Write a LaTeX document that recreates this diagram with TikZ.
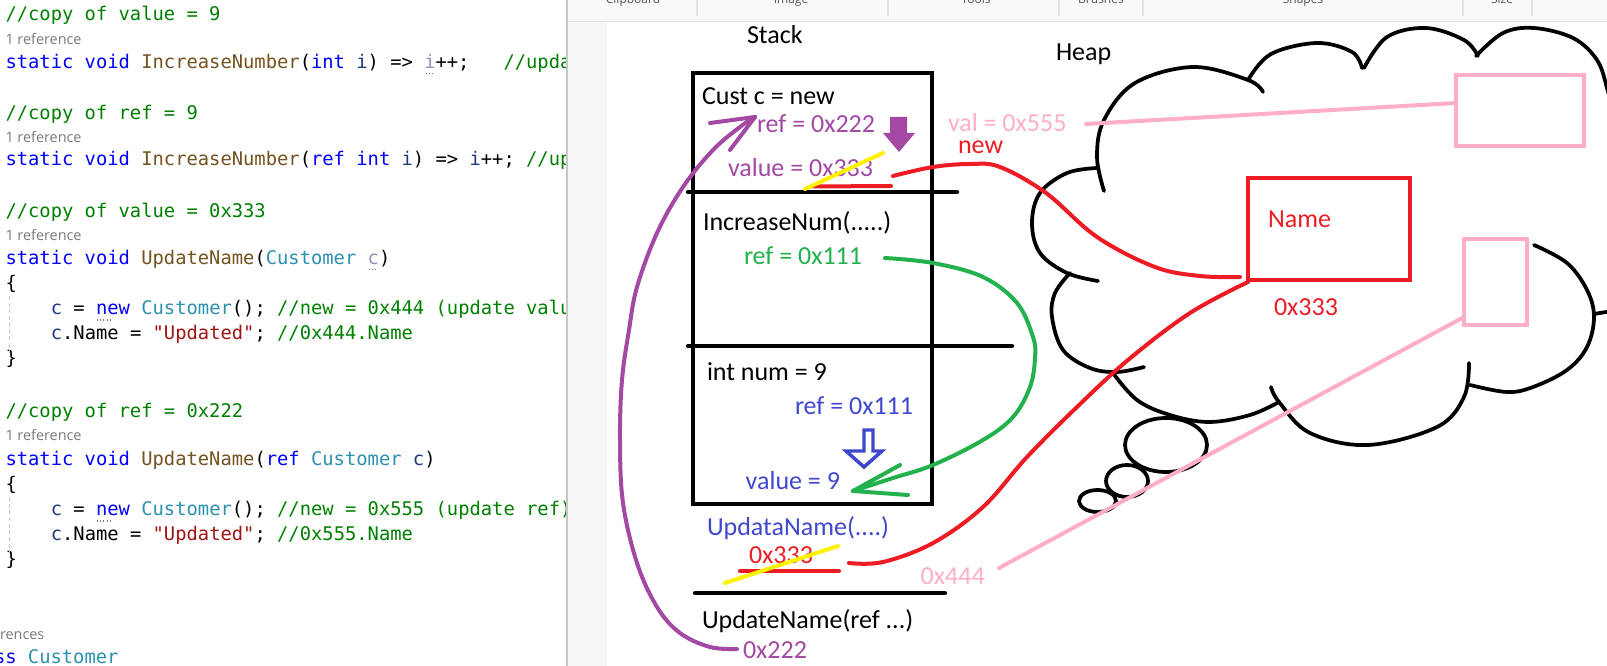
\documentclass[tikz,border=0pt]{standalone}
\usepackage{fontspec}
\setmainfont{Carlito}
\setmonofont{DejaVu Sans Mono}
\newfontfamily\uifont{Open Sans}
\definecolor{ppurple}{HTML}{A349A4}
\definecolor{pred}{HTML}{ED1C24}
\definecolor{pgreen}{HTML}{22B14C}
\definecolor{pblue}{HTML}{3F48CC}
\definecolor{ppink}{HTML}{FFAEC9}
\definecolor{pyellow}{HTML}{FFF200}
\definecolor{vskw}{HTML}{0000FF}
\definecolor{vsmt}{HTML}{74531F}
\definecolor{vsty}{HTML}{2B91AF}
\definecolor{vscm}{HTML}{008000}
\definecolor{vsst}{HTML}{A31515}
\definecolor{vspa}{HTML}{1F377F}
\definecolor{vsfd}{HTML}{8E96B8}
\definecolor{vsref}{HTML}{7A7A7A}
\definecolor{paintbg}{HTML}{F7F7F7}
\definecolor{ribbonbg}{HTML}{F9F9F9}
\definecolor{ribbonln}{HTML}{E3E3E3}
\definecolor{ribbontx}{HTML}{555555}
\newcommand{\CKw}[1]{\textcolor{vskw}{#1}}
\newcommand{\CMt}[1]{\textcolor{vsmt}{#1}}
\newcommand{\CTy}[1]{\textcolor{vsty}{#1}}
\newcommand{\CCm}[1]{\textcolor{vscm}{#1}}
\newcommand{\CSt}[1]{\textcolor{vsst}{#1}}
\newcommand{\CPa}[1]{\textcolor{vspa}{#1}}
\newcommand{\CFd}[1]{\textcolor{vsfd}{#1}}
\tikzset{
  ctxt/.style={inner sep=0pt, outer sep=0pt, anchor=base west, font=\ttfamily\fontsize{14.1}{17}\selectfont},
  reftxt/.style={inner sep=0pt, outer sep=0pt, anchor=base west, text=vsref, font=\uifont\fontsize{10.8}{13}\selectfont},
  ribtxt/.style={inner sep=0pt, outer sep=0pt, anchor=base, text=ribbontx, font=\uifont\fontsize{9}{11}\selectfont},
  ptxt/.style={inner sep=0pt, outer sep=0pt, anchor=base west, font=\fontsize{19.5}{23}\selectfont},
  pstroke/.style={line width=3pt, line cap=round, line join=round},
  boxline/.style={line width=3.2pt, line cap=round},
  cloudline/.style={black, line width=2.8pt, line cap=round, line join=round},
  vsdots/.style={draw=vsref, line width=0.9pt, dash pattern=on 0.8pt off 1.6pt},
  guide/.style={draw=black!22, line width=0.75pt, dash pattern=on 3pt off 2pt},
}
\begin{document}
\begin{tikzpicture}[x=0.75pt,y=-0.75pt]
\useasboundingbox (0,0) rectangle (1607,666);
\begin{scope}
\clip (0,0) rectangle (1607,666);
% ---------------- code panel ----------------
\fill[white] (0,0) rectangle (567,666);
\begin{scope}
\clip (0,0) rectangle (566,666);
\node[ctxt] (c1) at (5.5,20.5) {\CCm{//copy of value = 9}};
\node[reftxt] (r1) at (5.5,44.3) {1 reference};
\node[ctxt] (c3) at (5.5,68.3) {\CKw{static} \CKw{void} \CMt{IncreaseNumber}(\CKw{int} \CPa{i}) => \CFd{i}++;\ \ \ \CCm{//upda}};
\node[ctxt] (c4) at (5.5,119.3) {\CCm{//copy of ref = 9}};
\node[reftxt] (r2) at (5.5,142.7) {1 reference};
\node[ctxt] (c6) at (5.5,166) {\CKw{static} \CKw{void} \CMt{IncreaseNumber}(\CKw{ref} \CKw{int} \CPa{i}) => \CPa{i}++; \CCm{//up}};
\node[ctxt] (c7) at (5.5,217.3) {\CCm{//copy of value = 0x333}};
\node[reftxt] (r3) at (5.5,240.7) {1 reference};
\node[ctxt] (c9) at (5.5,264.3) {\CKw{static} \CKw{void} \CMt{UpdateName}(\CTy{Customer} \CFd{c})};
\node[ctxt] (c10) at (5.5,289.3) {\{};
\node[ctxt] (c11) at (50.8,314.3) {\CPa{c} = \CKw{new} \CTy{Customer}(); \CCm{//new = 0x444 (update valu}};
\node[ctxt] (c12) at (50.8,339.3) {\CPa{c}.Name = \CSt{"Updated"}; \CCm{//0x444.Name}};
\node[ctxt] (c13) at (5.5,364.3) {\}};
\node[ctxt] (c14) at (5.5,417.3) {\CCm{//copy of ref = 0x222}};
\node[reftxt] (r4) at (5.5,440.7) {1 reference};
\node[ctxt] (c16) at (5.5,465) {\CKw{static} \CKw{void} \CMt{UpdateName}(\CKw{ref} \CTy{Customer} \CPa{c})};
\node[ctxt] (c17) at (5.5,490) {\{};
\node[ctxt] (c18) at (50.8,515) {\CPa{c} = \CKw{new} \CTy{Customer}(); \CCm{//new = 0x555 (update ref)}};
\node[ctxt] (c19) at (50.8,540.7) {\CPa{c}.Name = \CSt{"Updated"}; \CCm{//0x555.Name}};
\node[ctxt] (c20) at (5.5,565) {\}};
\node[reftxt] (r5) at (0,639.3) {rences};
\node[ctxt] (c22) at (-6,663) {\CKw{ss} \CTy{Customer}};
\draw[vsdots] (426,73.5) -- (435,73.5);
\draw[vsdots] (369,269.5) -- (378,269.5);
\draw[vsdots] (97,320) -- (110,320);
\draw[vsdots] (97,521) -- (110,521);
\draw[guide] (9,296) -- (9,357);
\draw[guide] (9,497) -- (9,558);
\end{scope}
% ---------------- paint window ----------------
\fill[paintbg] (567,0) rectangle (1607,666);
\fill[white] (607,22) rectangle (1607,666);
\fill[ribbonbg] (567,0) rectangle (1607,21);
\draw[ribbonln, line width=0.9pt] (567,21.5) -- (1607,21.5);
\foreach \sx in {697,888,1059,1143,1463,1532} {\draw[ribbonln, line width=0.8pt] (\sx,0) -- (\sx,16);}
\node[ribtxt] (t1) at (633,3.3) {Clipboard};
\node[ribtxt] (t2) at (791,3.3) {Image};
\node[ribtxt] (t3) at (976,3.3) {Tools};
\node[ribtxt] (t4) at (1101,3.3) {Brushes};
\node[ribtxt] (t5) at (1303,3.3) {Shapes};
\node[ribtxt] (t6) at (1502,3.3) {Size};
\draw[black!22, line width=1.2pt] (567,0) -- (567,666);
% ---------------- canvas ----------------
\begin{scope}
\clip (607,22) rectangle (1607,666);
% cloud
\draw[cloudline] plot[smooth, tension=0.6] coordinates {(1104,191) (1097,157) (1104,120) (1135,83) (1193,67) (1248,80) (1263,92)};
\draw[cloudline] plot[smooth, tension=0.6] coordinates {(1248,80) (1271,54) (1317,43) (1352,52) (1362,68)};
\draw[cloudline] plot[smooth, tension=0.6] coordinates {(1364,68) (1387,37) (1426,28) (1464,40) (1478,56)};
\draw[cloudline] plot[smooth, tension=0.6] coordinates {(1476,56) (1503,33) (1534,28) (1573,38) (1597,60) (1607,88) (1612,110)};
\draw[cloudline] plot[smooth, tension=0.6] coordinates {(1534,245) (1567,263) (1587,290) (1594,317) (1587,347) (1567,370) (1533,387) (1507,392) (1470,385)};
\draw[cloudline] (1594,314) -- (1612,311);
\draw[cloudline] plot[smooth, tension=0.6] coordinates {(1469,363) (1464,397) (1437,427) (1368,445) (1310,433) (1279,402) (1271,387)};
\draw[cloudline] plot[smooth, tension=0.6] coordinates {(1113,373) (1137,400) (1170,415) (1209,422) (1250,415) (1279,402)};
\draw[cloudline] plot[smooth, tension=0.6] coordinates {(1070,273) (1055,293) (1052,317) (1063,350) (1090,368) (1117,372) (1144,367)};
\draw[cloudline] plot[smooth, tension=0.6] coordinates {(1097,168) (1067,173) (1040,193) (1032,223) (1040,253) (1067,273) (1098,281)};
\draw[cloudline, fill=white] (1166,445) ellipse [x radius=41, y radius=27];
\draw[cloudline, fill=white] (1127,481) ellipse [x radius=21, y radius=16];
\draw[cloudline, fill=white] (1097.5,501) ellipse [x radius=18.5, y radius=11];
% heap boxes
\draw[ppink, line width=3pt] (1456,75) rectangle (1584,146);
\draw[ppink, line width=3pt] (1464,239) rectangle (1527,325);
\draw[pred, line width=3.4pt] (1248,178) rectangle (1410,280);
\coordinate (bigSW) at (1456,103);
\coordinate (smallSW) at (1464,317);
\coordinate (nameW) at (1240,277);
\coordinate (nameSW) at (1248,282);
% stack
\draw[boxline] (693,73) rectangle (932,504);
\draw[boxline] (688,192) -- (957,192);
\draw[boxline] (688,346) -- (1012,346);
\draw[boxline] (695,593) -- (945,593);
% labels
\node[ptxt] (stack) at (747,44) {Stack};
\node[ptxt] (heap) at (1056,60.7) {Heap};
\node[ptxt] (cust) at (702,105) {Cust c = new};
\node[ptxt, text=ppurple] (ref222) at (757,132.7) {ref = 0x222};
\node[ptxt, text=ppurple] (val333) at (728,176.7) {value = 0x333};
\node[ptxt, text=pred] (newlbl) at (958,154) {new};
\node[ptxt, text=ppink] (val555) at (948,131.7) {val = 0x555};
\node[ptxt] (incnum) at (703,230.7) {IncreaseNum(.....)};
\node[ptxt, text=pgreen] (gref111) at (744,264.3) {ref = 0x111};
\node[ptxt] (intnum) at (707,380.7) {int num = 9};
\node[ptxt, text=pblue] (bref111) at (795,415) {ref = 0x111};
\node[ptxt, text=pblue] (val9) at (745.7,489.3) {value = 9};
\node[ptxt, text=pblue] (updata) at (707,535) {UpdataName(....)};
\node[ptxt, text=pred] (x333a) at (749,563.3) {0x333};
\node[ptxt, text=ppink] (x444) at (920.7,584) {0x444};
\node[ptxt] (updref) at (702,628.3) {UpdateName(ref ...)};
\node[ptxt, text=ppurple] (x222) at (743,658.3) {0x222};
\node[ptxt, text=pred] (namelbl) at (1268,227.3) {Name};
\node[ptxt, text=pred] (x333b) at (1274,316) {0x333};
% arrows in stack
\fill[ppurple] (890,117) -- (907,117) -- (907,133) -- (915,133) -- (899,152) -- (883,133) -- (890,133) -- cycle;
\draw[pblue, line width=2.6pt, line join=miter] (864,430) -- (873,430) -- (873,451) -- (882,451) -- (864,467) -- (846,451) -- (864,451) -- cycle;
% connector end points
\coordinate (redA) at (893,176);
\coordinate (redB) at (849,563);
\coordinate (pinkA) at (1086,124);
\coordinate (pinkB) at (999,568);
\coordinate (greenA) at (885,258);
\coordinate (greenTip) at (853,491);
\coordinate (purA) at (737,649);
\coordinate (purTip) at (755,117);
% strikes and underlines
\draw[pred, pstroke] (812,186.5) -- (891,186);
\draw[pyellow, pstroke] (805,189) -- (883,153);
\draw[pred, pstroke] (740,571) -- (839,571);
\draw[pyellow, pstroke] (725,583) -- (838,546);
% connectors
\draw[ppink, pstroke] (pinkA) -- (bigSW);
\draw[ppink, pstroke] (pinkB) -- (smallSW);
\draw[pred, pstroke] plot[smooth, tension=0.6] coordinates {(redA) (933,167) (970,164) (1000,167) (1046,193) (1097,237) (1155,267) (1200,276) (nameW)};
\draw[pred, pstroke] plot[smooth, tension=0.6] coordinates {(redB) (883,562) (933,543) (983,507) (1027,457) (1077,407) (1128,360) (1190,313) (nameSW)};
\draw[pgreen, pstroke] plot[smooth, tension=0.6] coordinates {(greenA) (933,263) (983,277) (1017,303) (1033,337) (1035,358) (1030,387) (1013,417) (983,440) (933,465) (893,478) (greenTip)};
\draw[pgreen, pstroke] (greenTip) -- (900,465);
\draw[pgreen, pstroke] (greenTip) -- (908,495);
\draw[ppurple, pstroke] plot[smooth, tension=0.6] coordinates {(purA) (710,647) (680,633) (657,607) (637,563) (623,503) (620,440) (622,380) (629,330) (637,287) (657,233) (683,187) (713,150) (740,127) (purTip)};
\draw[ppurple, pstroke] (purTip) -- (710,123);
\draw[ppurple, pstroke] (purTip) -- (730,150);
\end{scope}
\end{scope}
\end{tikzpicture}
\end{document}
